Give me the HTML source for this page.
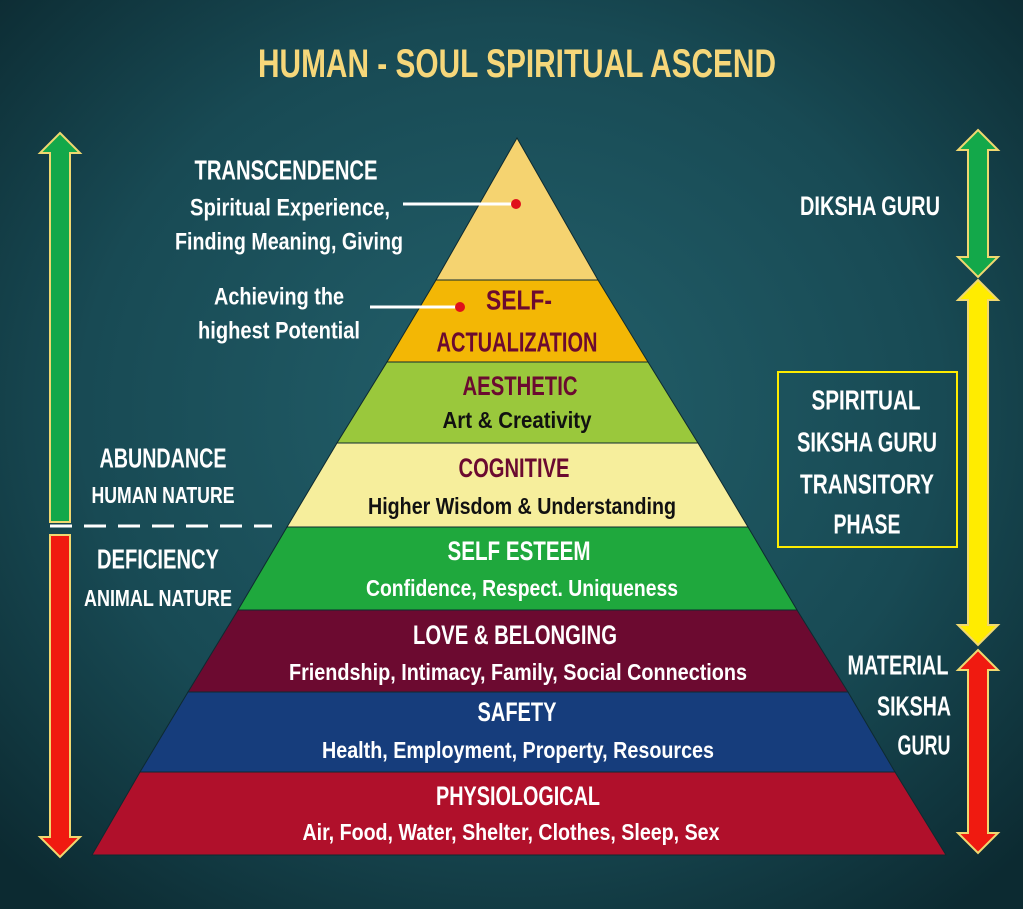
<!DOCTYPE html>
<html><head><meta charset="utf-8"><style>
html,body{margin:0;padding:0;width:1023px;height:909px;overflow:hidden;background:#17414a}
svg{display:block}
text{font-family:"Liberation Sans Narrow","Liberation Sans",sans-serif;font-weight:bold;text-anchor:middle;dominant-baseline:central}
</style></head><body>
<svg width="1023" height="909" viewBox="0 0 1023 909">
<defs>
<radialGradient id="bg" cx="50%" cy="45%" r="70%">
<stop offset="0" stop-color="#23606b"/><stop offset="0.6" stop-color="#184a54"/><stop offset="1" stop-color="#0c2a31"/>
</radialGradient>
</defs>
<rect width="1023" height="909" fill="url(#bg)"/>
<text x="517" y="64" font-size="40" fill="#f6d77a" textLength="518" lengthAdjust="spacingAndGlyphs">HUMAN - SOUL SPIRITUAL ASCEND</text>

<g stroke="#0e2a30" stroke-width="1">
<polygon points="517,138 598,280 436,280" fill="#f5d370"/>
<polygon points="436,280 598,280 648,362 387,362" fill="#f3b705"/>
<polygon points="387,362 648,362 698,443 337,443" fill="#9ac83c"/>
<polygon points="337,443 698,443 748,527 287,527" fill="#f6ee9c"/>
<polygon points="287,527 748,527 797,610 238,610" fill="#1fa83d"/>
<polygon points="238,610 797,610 848,692 188,692" fill="#6c0a30"/>
<polygon points="188,692 848,692 895,772 140,772" fill="#163d7c"/>
<polygon points="140,772 895,772 946,855 92,855" fill="#b0102b"/>
</g>

<line x1="403" y1="204" x2="514" y2="204" stroke="#fff" stroke-width="3"/>
<circle cx="516" cy="204" r="5" fill="#e0101a"/>
<line x1="370" y1="307" x2="457" y2="307" stroke="#fff" stroke-width="3"/>
<circle cx="460" cy="307" r="5" fill="#e0101a"/>
<line x1="50" y1="526" x2="272" y2="526" stroke="#fff" stroke-width="3" stroke-dasharray="22,12"/>

<g stroke="#f0d870" stroke-width="2">
<polygon points="60,133 80,153 70,153 70,522 50,522 50,153 40,153" fill="#13a84a"/>
<polygon points="50,535 70,535 70,837 80,837 60,857 40,837 50,837" fill="#f01a10"/>
<polygon points="978,130 998,150 988,150 988,257 998,257 978,277 958,257 968,257 968,150 958,150" fill="#13a84a"/>
<polygon points="978,280 998,300 988,300 988,625 998,625 978,645 958,625 968,625 968,300 958,300" fill="#ffec00"/>
<polygon points="978,650 998,670 988,670 988,833 998,833 978,853 958,833 968,833 968,670 958,670" fill="#f01a10"/>
</g>
<rect x="778" y="372" width="179" height="175" fill="none" stroke="#ffec00" stroke-width="2"/>

<g fill="#fff">
<text x="286" y="170" font-size="28" textLength="183" lengthAdjust="spacingAndGlyphs">TRANSCENDENCE</text>
<text x="290" y="208" font-size="24" textLength="200" lengthAdjust="spacingAndGlyphs">Spiritual Experience,</text>
<text x="289" y="242" font-size="24" textLength="228" lengthAdjust="spacingAndGlyphs">Finding Meaning, Giving</text>
<text x="279" y="297" font-size="24" textLength="130" lengthAdjust="spacingAndGlyphs">Achieving the</text>
<text x="279" y="331" font-size="24" textLength="162" lengthAdjust="spacingAndGlyphs">highest Potential</text>
<text x="163" y="458" font-size="28" textLength="127" lengthAdjust="spacingAndGlyphs">ABUNDANCE</text>
<text x="163" y="495" font-size="23" textLength="143" lengthAdjust="spacingAndGlyphs">HUMAN NATURE</text>
<text x="158" y="559" font-size="28" textLength="122" lengthAdjust="spacingAndGlyphs">DEFICIENCY</text>
<text x="158" y="598" font-size="23" textLength="148" lengthAdjust="spacingAndGlyphs">ANIMAL NATURE</text>
<text x="870" y="206" font-size="27" textLength="140" lengthAdjust="spacingAndGlyphs">DIKSHA GURU</text>
<text x="866" y="400" font-size="28" textLength="109" lengthAdjust="spacingAndGlyphs">SPIRITUAL</text>
<text x="867" y="442" font-size="28" textLength="140" lengthAdjust="spacingAndGlyphs">SIKSHA GURU</text>
<text x="867" y="484" font-size="28" textLength="134" lengthAdjust="spacingAndGlyphs">TRANSITORY</text>
<text x="867" y="524" font-size="28" textLength="67" lengthAdjust="spacingAndGlyphs">PHASE</text>
<text x="898" y="665" font-size="28" textLength="101" lengthAdjust="spacingAndGlyphs">MATERIAL</text>
<text x="914" y="706" font-size="28" textLength="74" lengthAdjust="spacingAndGlyphs">SIKSHA</text>
<text x="924" y="745" font-size="28" textLength="53" lengthAdjust="spacingAndGlyphs">GURU</text>
<text x="519" y="551" font-size="27" textLength="143" lengthAdjust="spacingAndGlyphs">SELF ESTEEM</text>
<text x="522" y="588" font-size="23" textLength="312" lengthAdjust="spacingAndGlyphs">Confidence, Respect. Uniqueness</text>
<text x="515" y="635" font-size="27" textLength="204" lengthAdjust="spacingAndGlyphs">LOVE &amp; BELONGING</text>
<text x="518" y="672" font-size="23" textLength="458" lengthAdjust="spacingAndGlyphs">Friendship, Intimacy, Family, Social Connections</text>
<text x="517" y="712" font-size="27" textLength="79" lengthAdjust="spacingAndGlyphs">SAFETY</text>
<text x="518" y="750" font-size="23" textLength="392" lengthAdjust="spacingAndGlyphs">Health, Employment, Property, Resources</text>
<text x="518" y="796" font-size="27" textLength="164" lengthAdjust="spacingAndGlyphs">PHYSIOLOGICAL</text>
<text x="511" y="832" font-size="23" textLength="417" lengthAdjust="spacingAndGlyphs">Air, Food, Water, Shelter, Clothes, Sleep, Sex</text>
</g>
<g fill="#6b0a30">
<text x="519" y="300" font-size="28" textLength="66" lengthAdjust="spacingAndGlyphs">SELF-</text>
<text x="517" y="342" font-size="28" textLength="161" lengthAdjust="spacingAndGlyphs">ACTUALIZATION</text>
<text x="520" y="386" font-size="27" textLength="115" lengthAdjust="spacingAndGlyphs">AESTHETIC</text>
<text x="514" y="468" font-size="27" textLength="111" lengthAdjust="spacingAndGlyphs">COGNITIVE</text>
</g>
<g fill="#111">
<text x="517" y="420" font-size="23" textLength="149" lengthAdjust="spacingAndGlyphs">Art &amp; Creativity</text>
<text x="522" y="506" font-size="23" textLength="308" lengthAdjust="spacingAndGlyphs">Higher Wisdom &amp; Understanding</text>
</g>
</svg>
</body></html>
